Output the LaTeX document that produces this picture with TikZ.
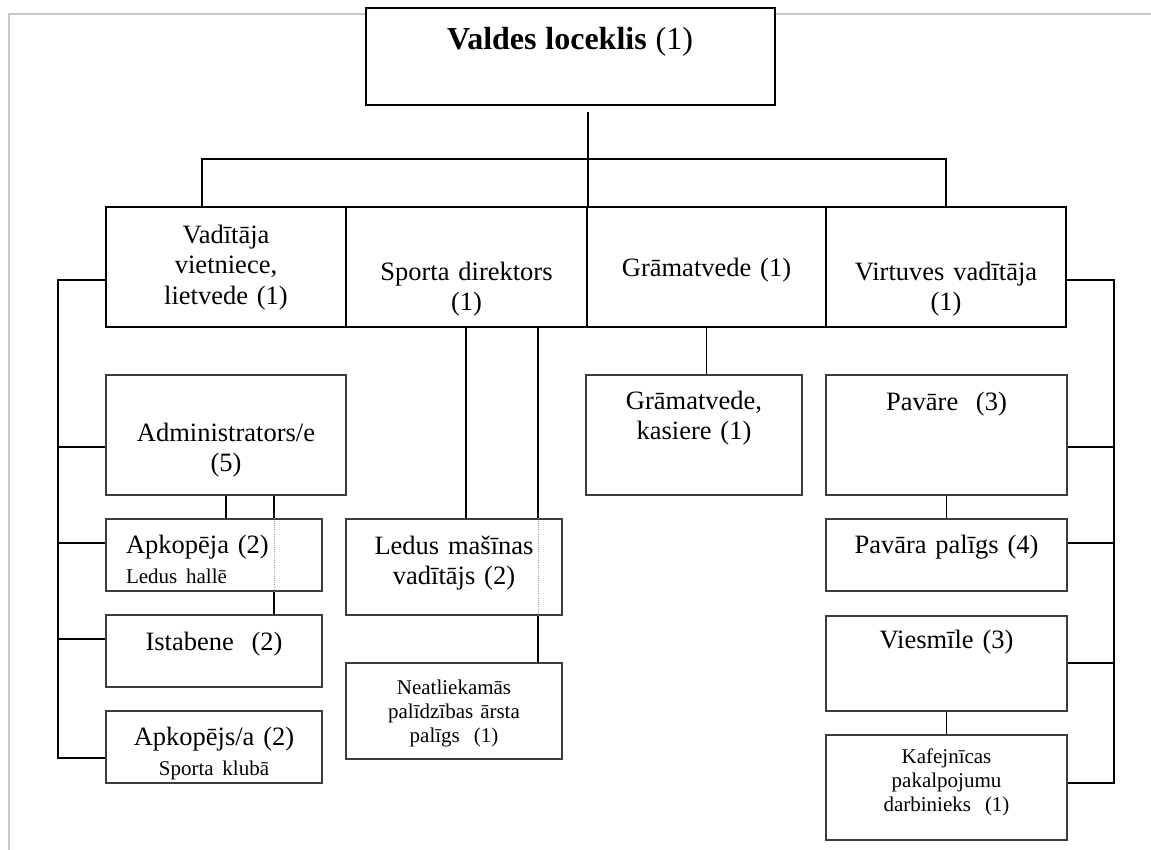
\documentclass[tikz,border=0pt]{standalone}
\usepackage{fontspec}
\setmainfont{Liberation Serif}
\usepackage{xcolor}
\usepackage{tikz}
\usetikzlibrary{calc}
\definecolor{edge}{HTML}{C8C8C8}
\definecolor{boxline}{HTML}{3C3C3C}
\definecolor{dotgray}{HTML}{A0A0A0}
\newcommand{\lblsize}{\fontsize{26.5}{30.5}\selectfont}
\newcommand{\notesize}{\fontsize{21}{24}\selectfont}
\tikzset{
  pageline/.style={draw=edge, line width=1.8pt},
  bigbox/.style={draw=black, line width=1.7pt, fill=white, inner sep=0pt},
  smallbox/.style={draw=boxline, line width=1.1pt, fill=white, inner sep=0pt},
  conn/.style={draw=black, line width=1.3pt},
  dotline/.style={draw=dotgray, line width=0.8pt, dash pattern=on 1pt off 1.2pt},
  lbl/.style={font=\lblsize, align=center, anchor=base, inner sep=0pt, text width=228pt},
  slbl/.style={font=\notesize, align=center, anchor=base, inner sep=0pt, text width=200pt}
}

\begin{document}
\begin{tikzpicture}[x=1pt, y=-1pt]
  \useasboundingbox (0,0) rectangle (1151,850);
  \fill[white] (0,0) rectangle (1151,850);
  \draw[pageline] (9,850) -- (9,14) -- (1151,14);

  % top and second row
  \node[bigbox, minimum width=409pt, minimum height=97pt] (board) at (570.5,56.5) {};
  \node[bigbox, minimum width=240pt, minimum height=120pt] (dep) at (226,267) {};
  \node[bigbox, minimum width=241pt, minimum height=120pt] (sport) at (466.5,267) {};
  \node[bigbox, minimum width=239pt, minimum height=120pt] (acct) at (706.5,267) {};
  \node[bigbox, minimum width=240pt, minimum height=120pt] (kitchen) at (946,267) {};

  % lower boxes
  \node[smallbox, minimum width=240pt, minimum height=120pt] (admin) at (226,435) {};
  \node[smallbox, minimum width=216pt, minimum height=72pt] (clean1) at (214,555) {};
  \node[smallbox, minimum width=216pt, minimum height=72pt] (maid) at (214,651) {};
  \node[smallbox, minimum width=216pt, minimum height=72pt] (clean2) at (214,747) {};
  \node[smallbox, minimum width=216pt, minimum height=96pt] (icemach) at (454,567) {};
  \node[smallbox, minimum width=216pt, minimum height=96pt] (medic) at (454,711) {};
  \node[smallbox, minimum width=216pt, minimum height=120pt] (cashier) at (694,435) {};
  \node[smallbox, minimum width=241pt, minimum height=120pt] (cook) at (946.5,435) {};
  \node[smallbox, minimum width=241pt, minimum height=72pt] (cookhelp) at (946.5,555) {};
  \node[smallbox, minimum width=241pt, minimum height=95pt] (waiter) at (946.5,663.5) {};
  \node[smallbox, minimum width=241pt, minimum height=105pt] (cafe) at (946.5,787.5) {};

  \coordinate (busL) at (202,159);
  \coordinate (busR) at (946,159);
  \coordinate (lbusT) at (58,280);
  \coordinate (lbusB) at (58,758);
  \coordinate (rbusT) at (1114,280);
  \coordinate (rbusB) at (1114,783);

  % connectors
  \draw[conn, shorten <=6pt] (board.south -| sport.north east) -- (sport.north east);
  \draw[conn] (dep.north -| busL) -- (busL) -- (busR) -- (kitchen.north -| busR);

  \draw[conn] (dep.west |- lbusT) -- (lbusT) -- (lbusB) -- (clean2.west |- lbusB);
  \draw[conn] (lbusT |- 0,447) -- (admin.west |- 0,447);
  \draw[conn] (lbusT |- 0,543) -- (clean1.west |- 0,543);
  \draw[conn] (lbusT |- 0,639) -- (maid.west |- 0,639);

  \draw[conn] (kitchen.east |- rbusT) -- (rbusT) -- (rbusB) -- (cafe.east |- rbusB);
  \draw[conn] (rbusT |- 0,447) -- (cook.east |- 0,447);
  \draw[conn] (rbusT |- 0,543) -- (cookhelp.east |- 0,543);
  \draw[conn] (rbusT |- 0,663) -- (waiter.east |- 0,663);

  \draw[conn] (admin.south -| 226,0) -- (clean1.north -| 226,0);
  \draw[conn] (admin.south -| 274,0) -- (clean1.north -| 274,0);
  \draw[dotline] (clean1.north -| 274,0) -- (clean1.south -| 274,0);
  \draw[conn] (clean1.south -| 274,0) -- (maid.north -| 274,0);

  \draw[conn] (sport.south -| 466,0) -- (icemach.north -| 466,0);
  \draw[conn] (sport.south -| 538,0) -- (icemach.north -| 538,0);
  \draw[dotline] (icemach.north -| 538,0) -- (icemach.south -| 538,0);
  \draw[conn] (icemach.south -| 538,0) -- (medic.north -| 538,0);

  \draw[conn] (acct.south) -- (cashier.north -| acct.south);
  \draw[conn] (cook.south) -- (cookhelp.north);
  \draw[conn] (waiter.south) -- (cafe.north);

  % texts
  \node[lbl, text width=400pt] (board-t) at (570,50)
    {\fontsize{32}{36}\selectfont\bfseries Valdes loceklis \mdseries(1)};
  \node[lbl] (dep-t) at (226,243.5) {Vadītāja\\vietniece,\\lietvede (1)};
  \node[lbl] (sport-t) at (466.5,280) {Sporta direktors\\(1)};
  \node[lbl] (acct-t) at (706.5,277) {Grāmatvede (1)};
  \node[lbl] (kitchen-t) at (946,280) {Virtuves vadītāja\\(1)};

  \node[lbl] (admin-t) at (226,441) {Administrators/e\\(5)};
  \node[lbl, align=left, text width=190pt] (clean1-t) at (221,553)
    {Apkopēja (2)\\\fontsize{21}{26}\selectfont Ledus hallē};
  \node[lbl] (maid-t) at (214,650) {Istabene\ \ (2)};
  \node[lbl] (clean2-t) at (214,745)
    {Apkopējs/a (2)\\\fontsize{21}{26}\selectfont Sporta klubā};
  \node[lbl] (icemach-t) at (454,554) {Ledus mašīnas\\vadītājs (2)};
  \node[slbl] (medic-t) at (454,694) {Neatliekamās\\palīdzības ārsta\\palīgs\ \ (1)};
  \node[lbl] (cashier-t) at (694,409) {Grāmatvede,\\kasiere (1)};
  \node[lbl] (cook-t) at (946.5,410) {Pavāre\ \ (3)};
  \node[lbl] (cookhelp-t) at (946.5,553) {Pavāra palīgs (4)};
  \node[lbl] (waiter-t) at (946.5,648) {Viesmīle (3)};
  \node[slbl] (cafe-t) at (946.5,763) {Kafejnīcas\\pakalpojumu\\darbinieks\ \ (1)};
\end{tikzpicture}
\end{document}
